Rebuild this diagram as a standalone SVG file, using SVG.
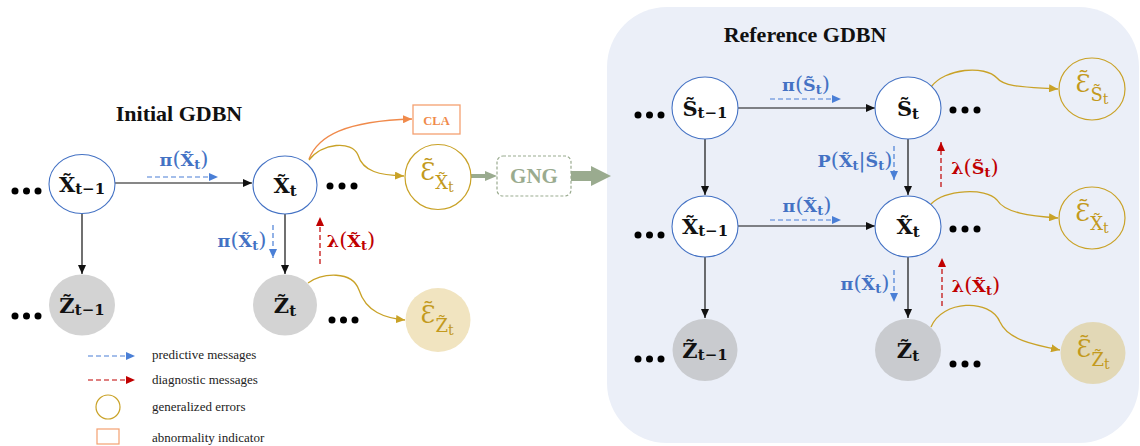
<svg xmlns="http://www.w3.org/2000/svg" width="1140" height="446" viewBox="0 0 1140 446">
<defs>
<style>
.title{font-family:"Liberation Serif",serif;font-weight:bold;font-size:22px;fill:#111}
.lg{font-family:"Liberation Serif",serif;font-size:13px;fill:#222}
.nl{font-family:"DejaVu Serif",serif;font-weight:bold;font-size:21px;fill:#111}
.s{font-size:15px}
.msg{font-family:"DejaVu Serif",serif;font-weight:bold;font-size:17.5px}
.ms{font-size:13px}
.par{font-weight:normal;font-size:21px}
.blue{fill:#4472c4}
.red{fill:#c00000}
.el{font-family:"DejaVu Serif",serif;font-size:24px;fill:#c39a1d}
.es{font-size:18px}
.et{font-size:14px}
.node{fill:#fff;stroke:#4472c4;stroke-width:1.1}
.obsL{fill:#d3d3d3}
.obsR{fill:#c9cbcf}
.err{fill:none;stroke:#c9a227;stroke-width:1.2}
.blk{fill:none;stroke:#111;stroke-width:1.2;marker-end:url(#mb)}
.pdash{fill:none;stroke:#4a7fd6;stroke-width:1.2;stroke-dasharray:5 3;marker-end:url(#mbl)}
.ddash{fill:none;stroke:#c00000;stroke-width:1.2;stroke-dasharray:5 3;marker-end:url(#mr)}
.gold{fill:none;stroke:#c9a227;stroke-width:1.3;marker-end:url(#mg)}
.dot{fill:#000}
</style>
<marker id="mb" markerUnits="userSpaceOnUse" markerWidth="9" markerHeight="8" refX="9" refY="4" orient="auto"><path d="M0,0 L9,4 L0,8 z" fill="#111"/></marker>
<marker id="mbl" markerUnits="userSpaceOnUse" markerWidth="9" markerHeight="8" refX="9" refY="4" orient="auto"><path d="M0,0 L9,4 L0,8 z" fill="#4a7fd6"/></marker>
<marker id="mr" markerUnits="userSpaceOnUse" markerWidth="9" markerHeight="8" refX="9" refY="4" orient="auto"><path d="M0,0 L9,4 L0,8 z" fill="#c00000"/></marker>
<marker id="mg" markerUnits="userSpaceOnUse" markerWidth="9" markerHeight="8" refX="9" refY="4" orient="auto"><path d="M0,0 L9,4 L0,8 z" fill="#c9a227"/></marker>
<marker id="mo" markerUnits="userSpaceOnUse" markerWidth="9" markerHeight="8" refX="9" refY="4" orient="auto"><path d="M0,0 L9,4 L0,8 z" fill="#f08a4b"/></marker>
</defs>

<!-- Reference panel background -->
<rect id="panel" x="607" y="7" width="532" height="436" rx="60" ry="60" fill="#ebeff8"/>

<text class="title" x="179" y="121" text-anchor="middle">Initial GDBN</text>
<text class="title" x="805" y="42" text-anchor="middle">Reference GDBN</text>

<g id="connectors">
  <!-- left -->
  <path class="blk" d="M115,183 L252,183"/>
  <path class="blk" d="M82,213 L82,274"/>
  <path class="blk" d="M285,214 L285,274"/>
  <path class="pdash" d="M147,177 L218,177"/>
  <path class="pdash" d="M273,225 L273,258"/>
  <path class="ddash" d="M320,264 L320,217"/>
  <path fill="none" stroke="#f08a4b" stroke-width="1.3" marker-end="url(#mo)" d="M309,159 C318,136 345,121 412,119"/>
  <path class="gold" d="M309,160 C322,143 352,140 358,155 C363,172 380,175 404,176"/>
  <path class="gold" d="M308,283 C322,273 352,270 359,290 C366,312 385,318 405,320"/>
  <path fill="none" stroke="#9aab8f" stroke-width="4" d="M471,176 L487,176"/>
  <path fill="#9aab8f" d="M485,171 L497,176 L485,181 z"/>
  <path fill="#9aab8f" d="M571,171 L591,171 L591,166 L611,176 L591,186 L591,181 L571,181 z"/>
  <!-- right -->
  <path class="blk" d="M738,108 L875,108"/>
  <path class="blk" d="M738,226 L875,226"/>
  <path class="blk" d="M705,139 L705,195"/>
  <path class="blk" d="M908,139 L908,195"/>
  <path class="blk" d="M705,257 L705,318"/>
  <path class="blk" d="M908,257 L908,318"/>
  <path class="pdash" d="M770,99 L841,99"/>
  <path class="pdash" d="M770,220 L841,220"/>
  <path class="pdash" d="M894,146 L894,180"/>
  <path class="pdash" d="M894,270 L894,302"/>
  <path class="ddash" d="M941,187 L941,142"/>
  <path class="ddash" d="M942,306 L942,258"/>
  <path class="gold" d="M931,87 C945,68 985,65 997,78 C1005,88 1030,87 1058,89"/>
  <path class="gold" d="M931,204 C945,190 985,187 997,200 C1005,213 1030,216 1058,218"/>
  <path class="gold" d="M931,327 C942,300 990,298 1000,322 C1008,340 1035,345 1060,350"/>
</g>

<!-- message labels -->
<g id="labels">
  <text class="msg blue" x="184" y="166" text-anchor="middle">π<tspan class="par">(</tspan>X̃<tspan class="ms" dy="3">t</tspan><tspan class="par" dy="-3">)</tspan></text>
  <text class="msg blue" x="242" y="247" text-anchor="middle">π<tspan class="par">(</tspan>X̃<tspan class="ms" dy="3">t</tspan><tspan class="par" dy="-3">)</tspan></text>
  <text class="msg red" x="351" y="247" text-anchor="middle">λ<tspan class="par">(</tspan>X̃<tspan class="ms" dy="3">t</tspan><tspan class="par" dy="-3">)</tspan></text>
  <text class="msg blue" x="806" y="91" text-anchor="middle">π<tspan class="par">(</tspan>S̃<tspan class="ms" dy="3">t</tspan><tspan class="par" dy="-3">)</tspan></text>
  <text class="msg blue" x="855" y="167" text-anchor="middle">P<tspan class="par">(</tspan>X̃<tspan class="ms" dy="3">t</tspan><tspan class="par" dy="-3">|</tspan>S̃<tspan class="ms" dy="3">t</tspan><tspan class="par" dy="-3">)</tspan></text>
  <text class="msg red" x="975" y="174" text-anchor="middle">λ<tspan class="par">(</tspan>S̃<tspan class="ms" dy="3">t</tspan><tspan class="par" dy="-3">)</tspan></text>
  <text class="msg blue" x="807" y="212" text-anchor="middle">π<tspan class="par">(</tspan>X̃<tspan class="ms" dy="3">t</tspan><tspan class="par" dy="-3">)</tspan></text>
  <text class="msg blue" x="865" y="290" text-anchor="middle">π<tspan class="par">(</tspan>X̃<tspan class="ms" dy="3">t</tspan><tspan class="par" dy="-3">)</tspan></text>
  <text class="msg red" x="976" y="292" text-anchor="middle">λ<tspan class="par">(</tspan>X̃<tspan class="ms" dy="3">t</tspan><tspan class="par" dy="-3">)</tspan></text>
</g>

<!-- ellipsis dots -->
<g id="dots">
  <circle class="dot" cx="15" cy="191" r="3.5"/><circle class="dot" cx="26.5" cy="191" r="3.5"/><circle class="dot" cx="38" cy="191" r="3.5"/>
  <circle class="dot" cx="330" cy="186" r="3.5"/><circle class="dot" cx="342" cy="186" r="3.5"/><circle class="dot" cx="354" cy="186" r="3.5"/>
  <circle class="dot" cx="15" cy="316" r="3.5"/><circle class="dot" cx="26.5" cy="316" r="3.5"/><circle class="dot" cx="38" cy="316" r="3.5"/>
  <circle class="dot" cx="332" cy="320" r="3.5"/><circle class="dot" cx="343.5" cy="320" r="3.5"/><circle class="dot" cx="355" cy="320" r="3.5"/>
  <circle class="dot" cx="638" cy="115" r="3.5"/><circle class="dot" cx="649.5" cy="115" r="3.5"/><circle class="dot" cx="661" cy="115" r="3.5"/>
  <circle class="dot" cx="953" cy="110" r="3.5"/><circle class="dot" cx="965" cy="110" r="3.5"/><circle class="dot" cx="977" cy="110" r="3.5"/>
  <circle class="dot" cx="638" cy="235" r="3.5"/><circle class="dot" cx="649.5" cy="235" r="3.5"/><circle class="dot" cx="661" cy="235" r="3.5"/>
  <circle class="dot" cx="953" cy="229" r="3.5"/><circle class="dot" cx="965" cy="229" r="3.5"/><circle class="dot" cx="977" cy="229" r="3.5"/>
  <circle class="dot" cx="638" cy="359" r="3.5"/><circle class="dot" cx="649.5" cy="359" r="3.5"/><circle class="dot" cx="661" cy="359" r="3.5"/>
  <circle class="dot" cx="953" cy="364" r="3.5"/><circle class="dot" cx="965" cy="364" r="3.5"/><circle class="dot" cx="977" cy="364" r="3.5"/>
</g>

<!-- Initial GDBN nodes -->
<g id="L_Xtm1"><ellipse class="node" cx="82" cy="184" rx="33" ry="29.5"/><text class="nl" x="82" y="192" text-anchor="middle">X̃<tspan class="s" dy="2">t−1</tspan></text></g>
<g id="L_Xt"><ellipse class="node" cx="285" cy="185" rx="32" ry="29"/><text class="nl" x="285" y="193" text-anchor="middle">X̃<tspan class="s" dy="3">t</tspan></text></g>
<g id="L_Ztm1"><ellipse class="obsL" cx="82" cy="305" rx="33" ry="30.5"/><text class="nl" x="82" y="313" text-anchor="middle">Z̃<tspan class="s" dy="2">t−1</tspan></text></g>
<g id="L_Zt"><ellipse class="obsL" cx="285" cy="305" rx="32" ry="30.5"/><text class="nl" x="285" y="313" text-anchor="middle">Z̃<tspan class="s" dy="3">t</tspan></text></g>
<g id="L_CLA"><rect x="413" y="105" width="47" height="29" fill="#fff" stroke="#f4a070" stroke-width="1.3"/><text x="436.5" y="125" text-anchor="middle" font-family="Liberation Serif, serif" font-weight="bold" font-size="12.5" fill="#f08a4b">CLA</text></g>
<g id="L_EX"><ellipse class="err" cx="438" cy="177" rx="33" ry="32.5"/><text class="el" x="437" y="180" text-anchor="middle">Ɛ̃<tspan class="es" dy="9">X̃</tspan><tspan class="et" dy="3">t</tspan></text></g>
<g id="L_EZ"><ellipse cx="438" cy="320" rx="32.5" ry="32" fill="#f1e4c0"/><text class="el" x="437" y="323" text-anchor="middle">Ɛ̃<tspan class="es" dy="9">Z̃</tspan><tspan class="et" dy="3">t</tspan></text></g>
<g id="L_GNG"><rect x="497" y="156" width="74" height="40" rx="6" fill="#fff" stroke="#9aab8f" stroke-width="1.2" stroke-dasharray="3 2"/><text x="534" y="183" text-anchor="middle" font-family="Liberation Serif, serif" font-weight="bold" font-size="21" fill="#9aab8f">GNG</text></g>

<!-- Reference GDBN nodes -->
<g id="R_Stm1"><ellipse class="node" cx="705" cy="108" rx="33" ry="31"/><text class="nl" x="705" y="116" text-anchor="middle">S̃<tspan class="s" dy="2">t−1</tspan></text></g>
<g id="R_St"><ellipse class="node" cx="908" cy="108" rx="33" ry="31"/><text class="nl" x="908" y="116" text-anchor="middle">S̃<tspan class="s" dy="3">t</tspan></text></g>
<g id="R_Xtm1"><ellipse class="node" cx="705" cy="226.5" rx="33" ry="30.5"/><text class="nl" x="705" y="234" text-anchor="middle">X̃<tspan class="s" dy="2">t−1</tspan></text></g>
<g id="R_Xt"><ellipse class="node" cx="908" cy="226.5" rx="33" ry="30.5"/><text class="nl" x="908" y="234" text-anchor="middle">X̃<tspan class="s" dy="3">t</tspan></text></g>
<g id="R_Ztm1"><ellipse class="obsR" cx="705" cy="350" rx="32.5" ry="31"/><text class="nl" x="705" y="358" text-anchor="middle">Z̃<tspan class="s" dy="2">t−1</tspan></text></g>
<g id="R_Zt"><ellipse class="obsR" cx="908" cy="350" rx="33" ry="31"/><text class="nl" x="908" y="358" text-anchor="middle">Z̃<tspan class="s" dy="3">t</tspan></text></g>
<g id="R_ES"><ellipse class="err" cx="1092" cy="89" rx="33" ry="31"/><text class="el" x="1092" y="92" text-anchor="middle">Ɛ̃<tspan class="es" dy="9">S̃</tspan><tspan class="et" dy="3">t</tspan></text></g>
<g id="R_EX"><ellipse class="err" cx="1092" cy="218" rx="33" ry="31"/><text class="el" x="1092" y="221" text-anchor="middle">Ɛ̃<tspan class="es" dy="9">X̃</tspan><tspan class="et" dy="3">t</tspan></text></g>
<g id="R_EZ"><ellipse cx="1093" cy="353" rx="32.5" ry="31" fill="#e2d8b6"/><text class="el" x="1093" y="357" text-anchor="middle">Ɛ̃<tspan class="es" dy="9">Z̃</tspan><tspan class="et" dy="3">t</tspan></text></g>

<!-- legend -->
<g id="legend">
  <path class="pdash" d="M88,356 L135,356"/>
  <text class="lg" x="152" y="359">predictive messages</text>
  <path class="ddash" d="M88,380 L135,380"/>
  <text class="lg" x="152" y="384">diagnostic messages</text>
  <circle cx="108" cy="407" r="12" fill="none" stroke="#c9a227" stroke-width="1.2"/>
  <text class="lg" x="152" y="411">generalized errors</text>
  <rect x="97" y="429" width="22" height="15" fill="#fff" stroke="#f4a070" stroke-width="1.2"/>
  <text class="lg" x="152" y="442">abnormality indicator</text>
</g>
</svg>
